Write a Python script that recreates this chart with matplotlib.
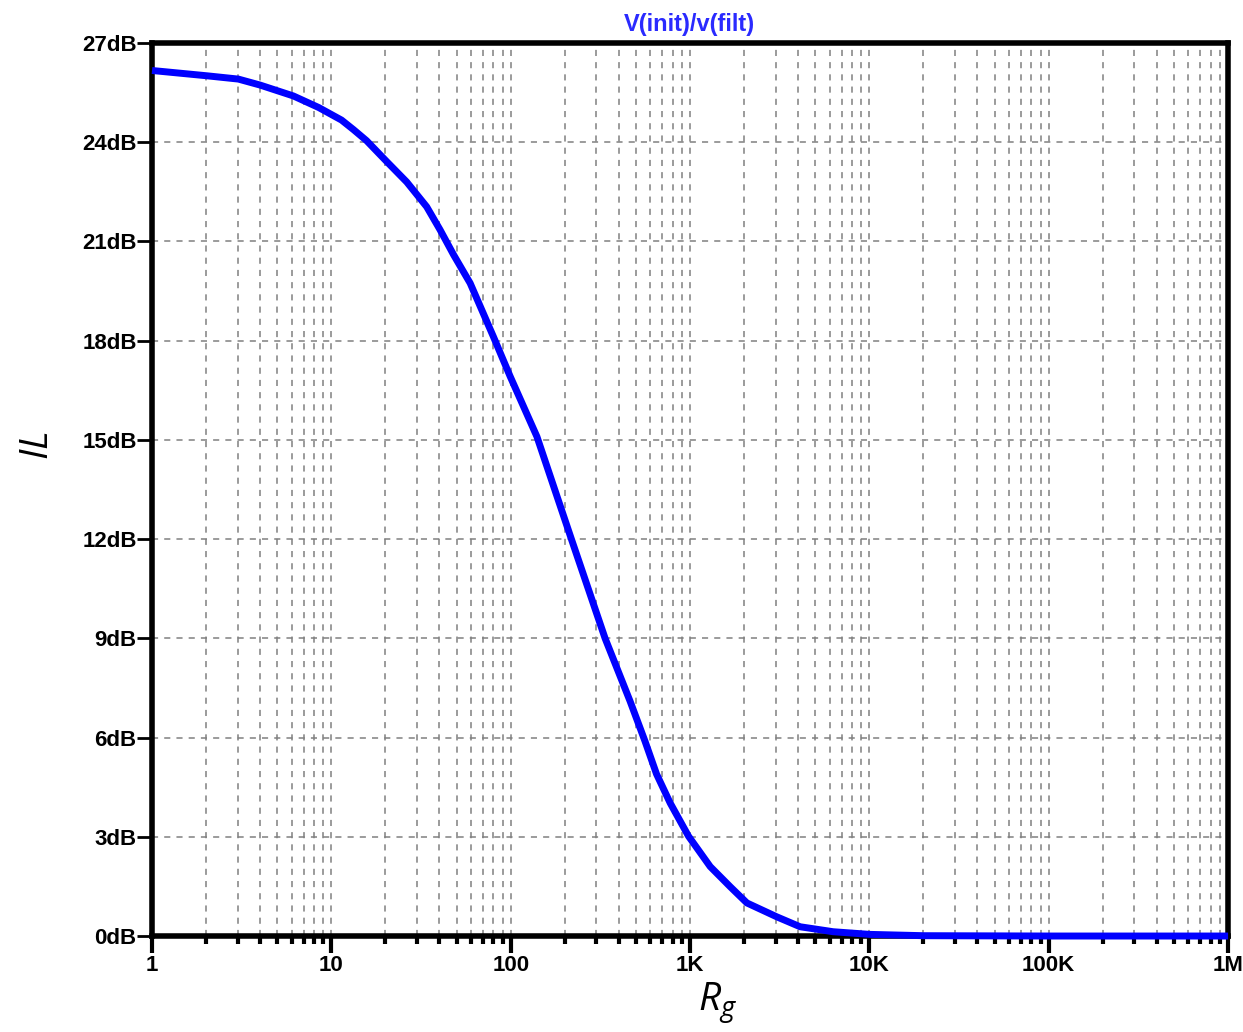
#!/usr/bin/env python3
"""
Insertion loss vs. source resistance, LTspice-style plot.
"""

import matplotlib.pyplot as plt
from matplotlib.ticker import FixedLocator, LogLocator, NullFormatter

# data
rg = [1, 2.02, 3.03, 4.0, 6.14, 8.5, 11.4, 13.3, 15.7, 20.4, 26.3, 34.0,
      40.4, 48, 59.4, 80.1, 99.3, 140, 218, 336, 463, 560, 650, 775, 980,
      1295, 1675, 2075, 3047, 4110, 6280, 10000, 20000, 100000, 1000000]
il_db = [26.17, 26.01, 25.91, 25.73, 25.40, 25.05, 24.67, 24.38, 24.05, 23.41,
         22.80, 22.05, 21.35, 20.6, 19.74, 18.12, 16.92, 15.1, 12.0, 9.0,
         7.1, 5.9, 4.9, 4.02, 3.02, 2.10, 1.49, 1.0, 0.58, 0.28, 0.13,
         0.05, 0.01, 0.0, 0.0]

x_ticks = [1, 10, 100, 1e3, 1e4, 1e5, 1e6]
x_labels = ["1", "10", "100", "1K", "10K", "100K", "1M"]
y_ticks = list(range(0, 28, 3))
y_labels = [f"{v}dB" for v in y_ticks]


def main():
    plt.rcParams["font.family"] = ["Liberation Sans", "DejaVu Sans"]
    plt.rcParams["mathtext.fontset"] = "custom"
    plt.rcParams["mathtext.it"] = "Open Sans:italic"
    plt.rcParams["mathtext.rm"] = "Open Sans"

    fig = plt.figure(figsize=(12.43, 10.32), dpi=100)
    ax = fig.add_axes([0.1223, 0.093, 0.8657, 0.8653])

    ax.plot(rg, il_db, color="#0000ff", linewidth=5, clip_on=False,
            zorder=5, solid_capstyle="butt", solid_joinstyle="round")

    ax.set_xscale("log")
    ax.set_xlim(1, 1e6)
    ax.set_ylim(0, 27)

    ax.xaxis.set_major_locator(FixedLocator(x_ticks))
    ax.set_xticklabels(x_labels, fontweight="bold", fontsize=16)
    ax.xaxis.set_minor_locator(LogLocator(base=10, subs=range(2, 10), numticks=20))
    ax.xaxis.set_minor_formatter(NullFormatter())
    ax.set_yticks(y_ticks)
    ax.set_yticklabels(y_labels, fontweight="bold", fontsize=16)

    ax.tick_params(axis="x", which="major", direction="out", length=12,
                   width=3, pad=2)
    ax.tick_params(axis="x", which="minor", direction="out", length=6, width=3)
    ax.tick_params(axis="y", which="major", direction="out", length=11,
                   width=2, pad=0)

    grid_style = dict(color="#808080", linestyle=(0, (4, 4)), linewidth=1.1)
    ax.grid(True, which="major", axis="both", **grid_style)
    ax.grid(True, which="minor", axis="x", **grid_style)

    for spine in ax.spines.values():
        spine.set_linewidth(4)
        spine.set_zorder(4)

    fig.text(0.555, 1 - 24 / 1032, "V(init)/v(filt)", color="#2a2aff",
             fontsize=17, fontweight="bold", ha="center", va="center")

    fig.text(718 / 1243, 1 - 1003 / 1032, r"$R_g$", fontsize=28,
             ha="center", va="center")
    fig.text(38 / 1243, 1 - 446 / 1032, r"$IL$", fontsize=28, rotation=90,
             ha="center", va="center")

    fig.savefig("out.png", dpi=100)
    plt.close(fig)


if __name__ == "__main__":
    main()
